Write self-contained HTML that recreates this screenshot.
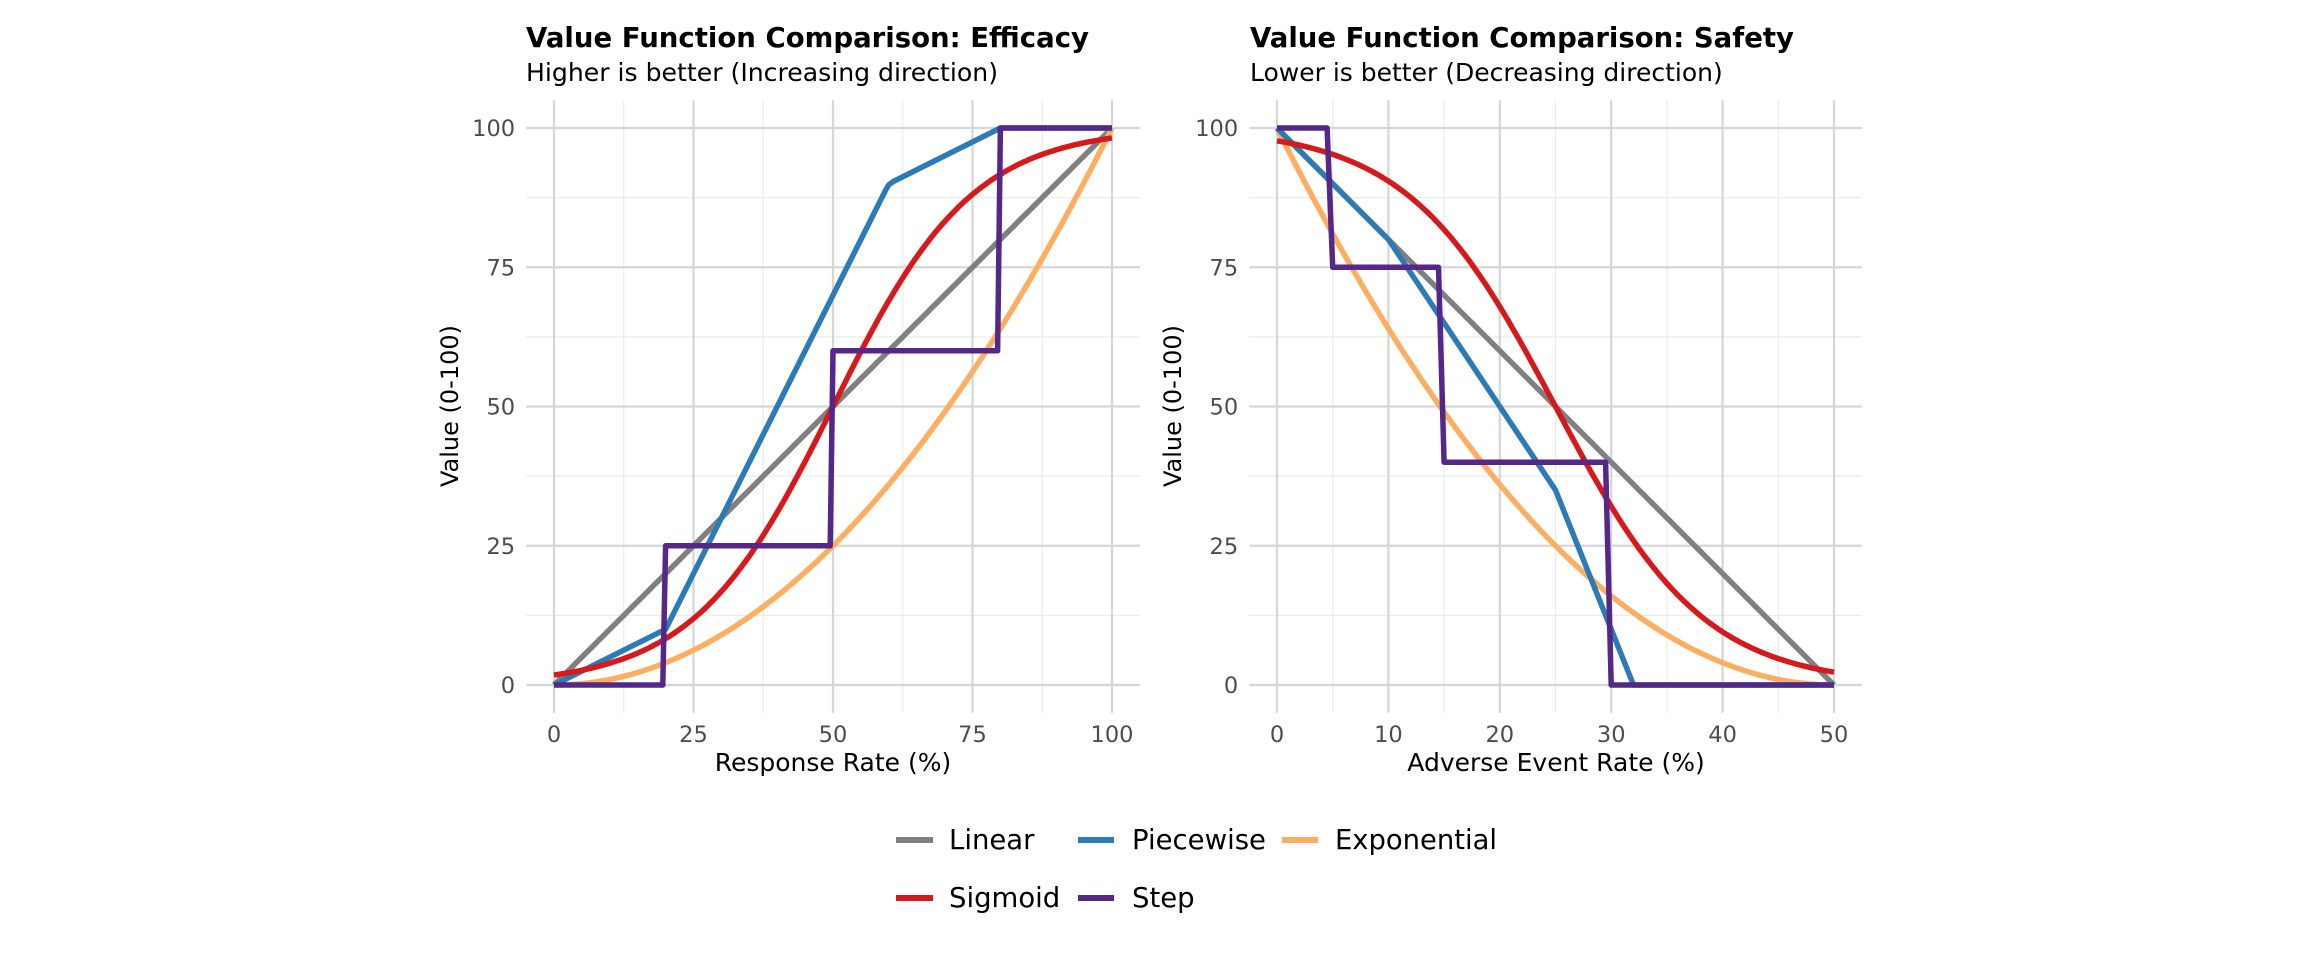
<!DOCTYPE html>
<html><head><meta charset="utf-8"><style>
html,body{margin:0;padding:0;background:#fff;}
svg{display:block;font-family:"DejaVu Sans","Liberation Sans",sans-serif;}
</style></head><body>
<svg id="s" width="2304" height="960" viewBox="0 0 2304 960" xmlns="http://www.w3.org/2000/svg">
<rect width="2304" height="960" fill="#fff"/>
<g id="grid"></g>
<g id="lines" fill="none" stroke-linejoin="round" stroke-linecap="butt"></g>
<text x="526" y="47" font-size="27.5" font-weight="bold" fill="#000" textLength="563" lengthAdjust="spacingAndGlyphs">Value Function Comparison: Efficacy</text>
<text x="526" y="81" font-size="25" fill="#000" textLength="472" lengthAdjust="spacingAndGlyphs">Higher is better (Increasing direction)</text>
<text x="1250" y="47" font-size="27.5" font-weight="bold" fill="#000" textLength="544" lengthAdjust="spacingAndGlyphs">Value Function Comparison: Safety</text>
<text x="1250" y="81" font-size="25" fill="#000">Lower is better (Decreasing direction)</text>
<g font-size="22.5" fill="#4d4d4d" text-anchor="end" id="ylab"></g>
<g font-size="22.5" fill="#4d4d4d" text-anchor="middle" id="xlab"></g>
<text x="833" y="771" font-size="25" text-anchor="middle" fill="#000">Response Rate (%)</text>
<text x="1556" y="771" font-size="25" text-anchor="middle" fill="#000">Adverse Event Rate (%)</text>
<text transform="translate(458,406) rotate(-90)" font-size="24" text-anchor="middle" fill="#000">Value (0-100)</text>
<text transform="translate(1181,406) rotate(-90)" font-size="24" text-anchor="middle" fill="#000">Value (0-100)</text>
<g stroke-width="6">
<line x1="896" y1="840" x2="933" y2="840" stroke="#808080"/>
<line x1="1078" y1="840" x2="1114" y2="840" stroke="#2C7BB6"/>
<line x1="1282" y1="840" x2="1318" y2="840" stroke="#FDAE61"/>
<line x1="896" y1="898" x2="933" y2="898" stroke="#D7191C"/>
<line x1="1078" y1="898" x2="1114" y2="898" stroke="#542788"/>
</g>
<g font-size="27.5" fill="#000">
<text x="949" y="849">Linear</text>
<text x="1132" y="849">Piecewise</text>
<text x="1335" y="849" textLength="162" lengthAdjust="spacingAndGlyphs">Exponential</text>
<text x="949" y="907">Sigmoid</text>
<text x="1132" y="907">Step</text>
</g>
</svg>
<script>
const NS="http://www.w3.org/2000/svg";
const panels=[{x0:554,x1:1112,xmax:100,xmaj:[0,25,50,75,100],xmin:[12.5,37.5,62.5,87.5]},
{x0:1277,x1:1834,xmax:50,xmaj:[0,10,20,30,40,50],xmin:[5,15,25,35,45]}];
const Y0=685,Y100=128;
const g=document.getElementById('grid'),L=document.getElementById('lines'),yl=document.getElementById('ylab'),xl=document.getElementById('xlab');
function el(p,t,a,txt){const e=document.createElementNS(NS,t);for(const k in a)e.setAttribute(k,a[k]);if(txt!==undefined)e.textContent=txt;p.appendChild(e);return e;}
panels.forEach((P,i)=>{
 const sx=v=>P.x0+(P.x1-P.x0)*v/P.xmax, sy=v=>Y0+(Y100-Y0)*v/100;
 P.sx=sx;P.sy=sy;
 const left=sx(-0.05*P.xmax),right=sx(1.05*P.xmax),top=sy(105),bot=sy(-5);
 [12.5,37.5,62.5,87.5].forEach(v=>el(g,'line',{x1:left,x2:right,y1:sy(v),y2:sy(v),stroke:'#ebebeb','stroke-width':1.2}));
 P.xmin.forEach(v=>el(g,'line',{x1:sx(v),x2:sx(v),y1:top,y2:bot,stroke:'#ebebeb','stroke-width':1.2}));
 [0,25,50,75,100].forEach(v=>{el(g,'line',{x1:left,x2:right,y1:sy(v),y2:sy(v),stroke:'#d6d6d6','stroke-width':2.2});
  el(yl,'text',{x:left-11,y:sy(v)+8},String(v));});
 P.xmaj.forEach(v=>{el(g,'line',{x1:sx(v),x2:sx(v),y1:top,y2:bot,stroke:'#d6d6d6','stroke-width':2.2});
  el(xl,'text',{x:sx(v),y:742},String(v));});
});
function path(P,pts,col){el(L,'path',{d:'M'+pts.map(p=>P.sx(p[0]).toFixed(1)+','+P.sy(p[1]).toFixed(1)).join('L'),stroke:col,'stroke-width':5.5});}
function fn(f,max){const a=[];for(let i=0;i<=200;i++){const x=max*i/200;a.push([x,f(x)]);}return a;}
const A=panels[0],B=panels[1];
path(A,fn(x=>x,100),'#808080');
path(A,fn(x=>100*(x/100)**2,100),'#FDAE61');
path(A,[[0,0],[20,10],[59.4,88.8],[60,89.8],[60.8,90.4],[80,100],[100,100]],'#2C7BB6');
path(A,fn(x=>100/(1+Math.exp(-0.08*(x-50))),100),'#D7191C');
path(A,[[0,0],[19.5,0],[20,25],[49.5,25],[50,60],[79.5,60],[80,100],[100,100]],'#542788');
path(B,fn(x=>100-2*x,50),'#808080');
path(B,fn(x=>100*(1-x/50)**2,50),'#FDAE61');
path(B,[[0,100],[10,80],[24.5,36.5],[25,35],[32,0],[50,0]],'#2C7BB6');
path(B,fn(x=>100/(1+Math.exp(0.15*(x-25))),50),'#D7191C');
path(B,[[0,100],[4.5,100],[5,75],[14.5,75],[15,40],[29.5,40],[30,0],[50,0]],'#542788');
</script>
</body></html>
